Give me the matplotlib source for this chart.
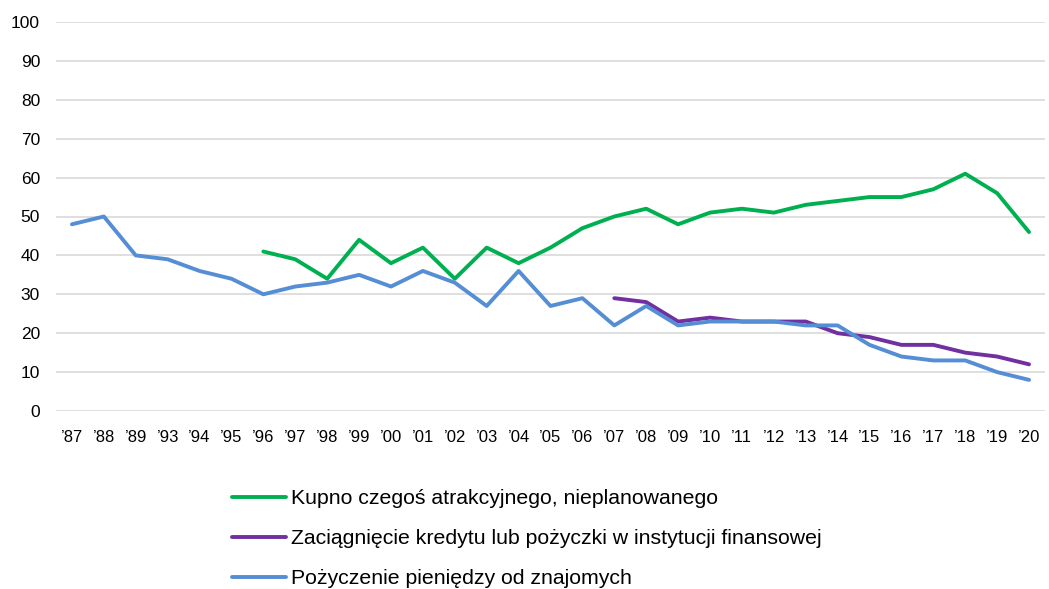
import matplotlib
matplotlib.use("Agg")
import matplotlib.pyplot as plt
import numpy as np

years = ["’87", "’88", "’89", "’93", "’94", "’95", "’96", "’97", "’98", "’99", "’00",
         "’01", "’02", "’03", "’04", "’05", "’06", "’07", "’08", "’09", "’10", "’11",
         "’12", "’13", "’14", "’15", "’16", "’17", "’18", "’19", "’20"]
kupno = [None]*6 + [41, 39, 34, 44, 38, 42, 34, 42, 38, 42, 47, 50, 52, 48, 51, 52, 51, 53, 54, 55, 55, 57, 61, 56, 46]
kredyt = [None]*17 + [29, 28, 23, 24, 23, 23, 23, 20, 19, 17, 17, 15, 14, 12]
pozyczenie = [48, 50, 40, 39, 36, 34, 30, 32, 33, 35, 32, 36, 33, 27, 36, 27, 29, 22, 27, 22, 23, 23, 23, 22, 22, 17, 14, 13, 13, 10, 8]
labels = ["Kupno czegoś atrakcyjnego, nieplanowanego",
          "Zaciągnięcie kredytu lub pożyczki w instytucji finansowej",
          "Pożyczenie pieniędzy od znajomych"]
colors = ["#00B050", "#7030A0", "#558ED5"]

plt.rcParams['font.family'] = ['Liberation Sans', 'DejaVu Sans']

fig = plt.figure(figsize=(10.49, 5.89), dpi=100)
ax = fig.add_axes([56/1049, 1-411/589, (1045-56)/1049, (411-22)/589])

x = np.arange(len(years))
def arr(v):
    return np.array([np.nan if a is None else a for a in v], dtype=float)

handles = []
for series, c, lab in zip([kupno, kredyt, pozyczenie], colors, labels):
    h, = ax.plot(x, arr(series), color=c, lw=2.8, label=lab, solid_capstyle='round', solid_joinstyle='round')
    handles.append(h)

ax.set_xlim(-0.5, len(years)-0.5)
ax.set_ylim(0, 100)
ax.set_yticks(range(0, 101, 10))
ax.set_xticks(x)
ax.set_xticklabels(years)
ax.tick_params(axis='both', length=0, colors='#000000')
ax.tick_params(axis='y', pad=11.5, labelsize=12.5)
ax.tick_params(axis='x', pad=13.5, labelsize=12)
ax.grid(axis='y', color='#D9D9D9', lw=1.2)
ax.set_axisbelow(True)
for s in ax.spines.values():
    s.set_visible(False)

fig.legend(handles=handles, labels=labels, loc='upper left',
           bbox_to_anchor=(232/1049, 1-489/589), frameon=False,
           fontsize=15.3, handlelength=2.55, handletextpad=0.24,
           labelspacing=1.0, borderpad=0, borderaxespad=0)

fig.savefig("out.png", dpi=100)
